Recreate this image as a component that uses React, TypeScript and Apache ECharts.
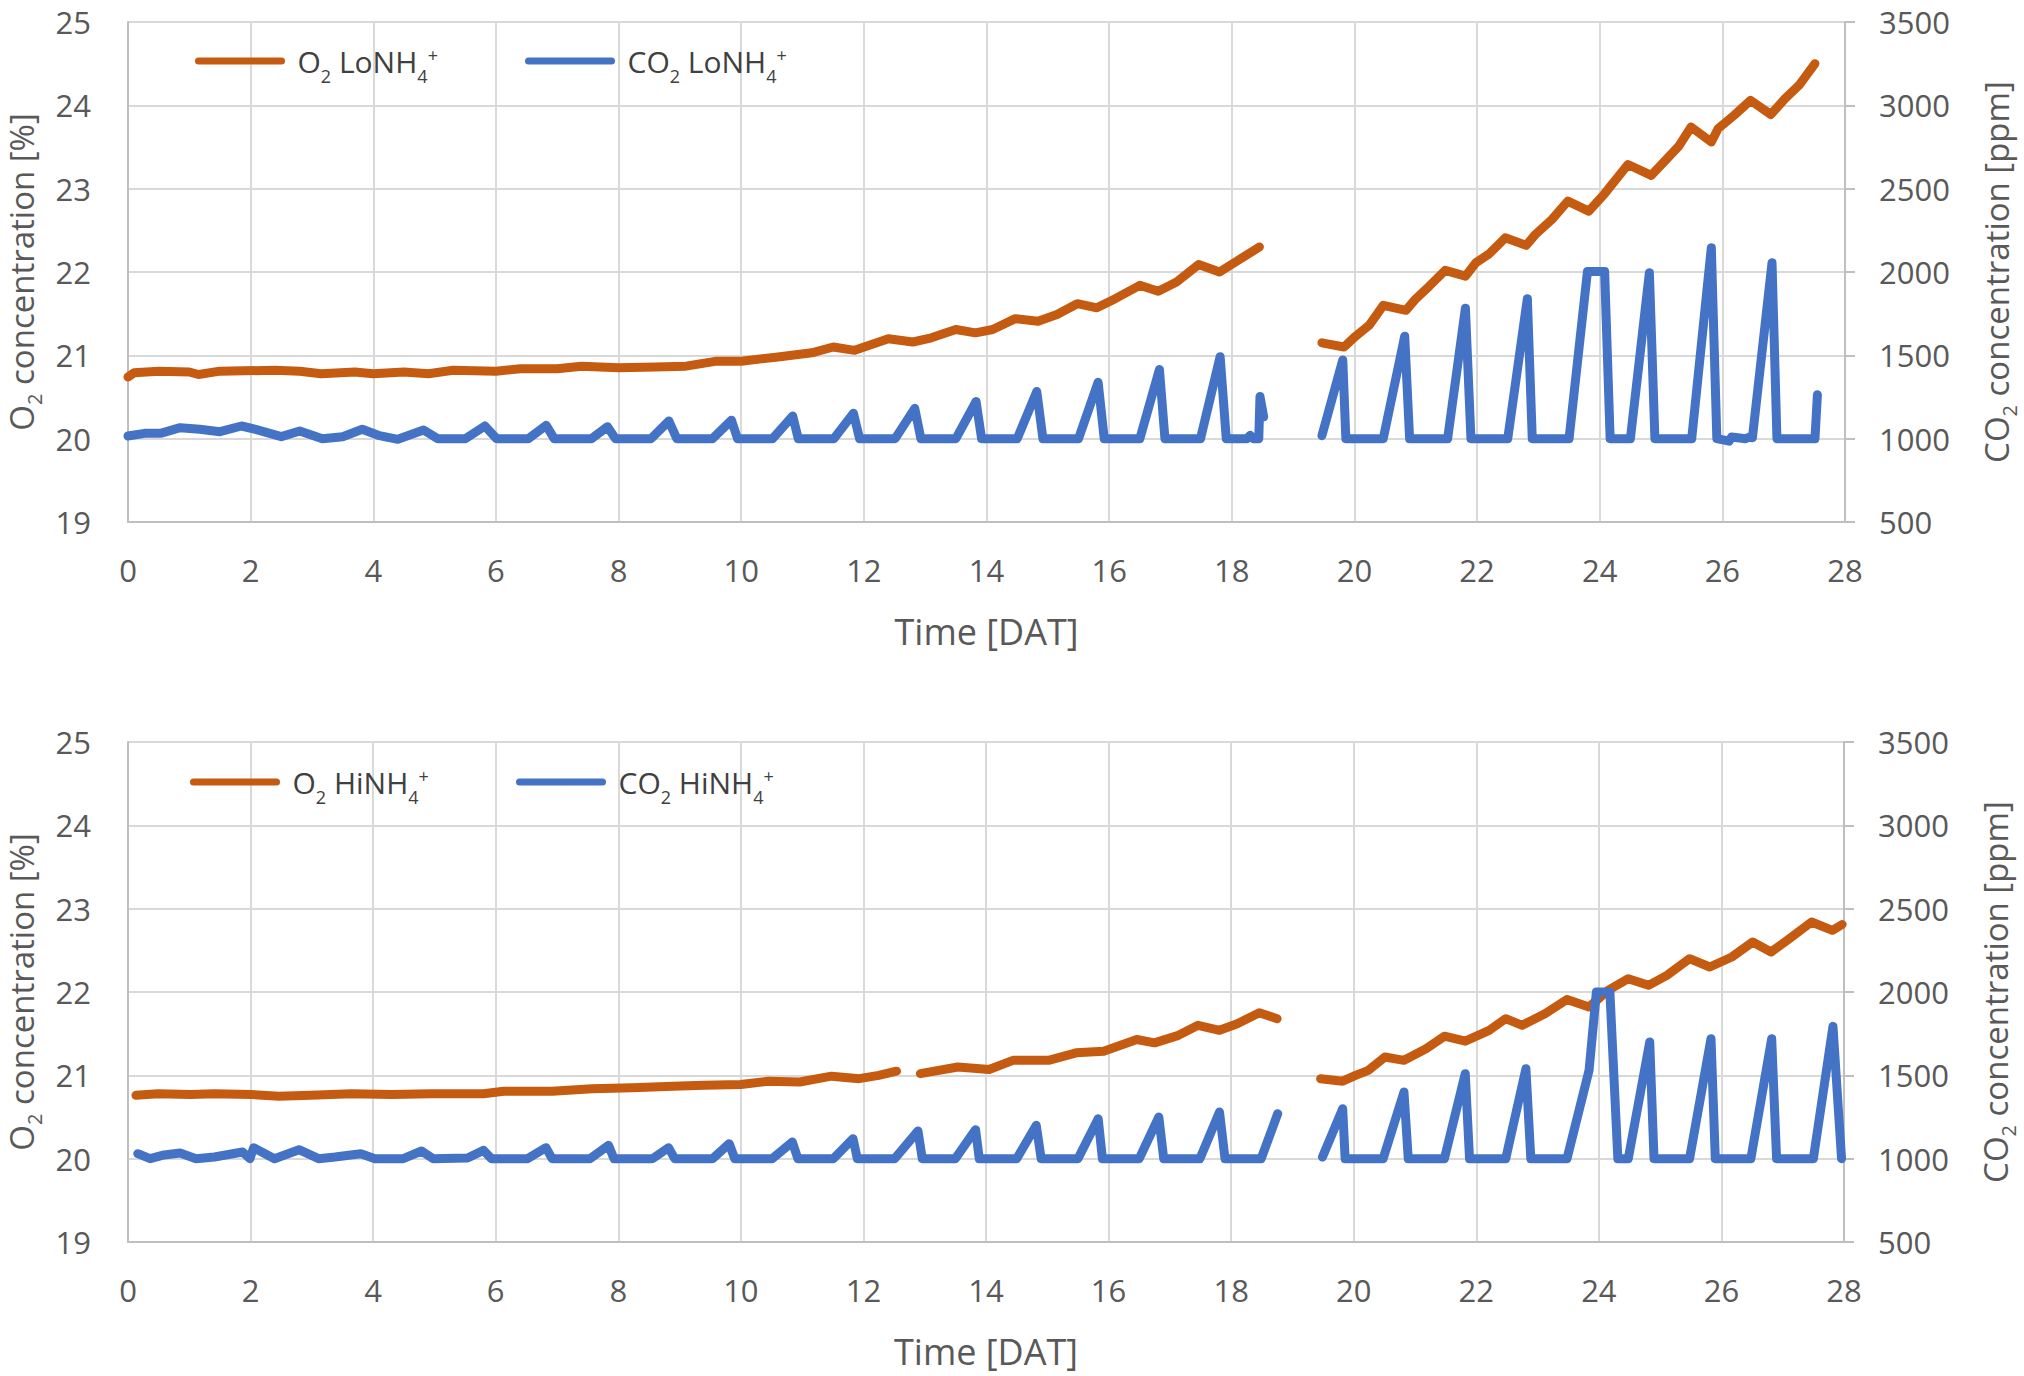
import React, { useEffect, useRef } from "react";
import * as echarts from "echarts";

// ---------- data (t in DAT, O2 in %, CO2 in ppm) ----------
const topO2Seg1: [number, number][] = [
  [0, 20.74], [0.1, 20.79], [0.5, 20.81], [1.0, 20.8], [1.15, 20.77], [1.5, 20.81], [2.4, 20.82],
  [2.8, 20.81], [3.15, 20.78], [3.7, 20.8], [4.0, 20.78], [4.5, 20.8], [4.9, 20.78], [5.3, 20.82],
  [6.0, 20.81], [6.4, 20.84], [7.0, 20.84], [7.4, 20.87], [8.0, 20.85], [8.6, 20.86], [9.1, 20.87],
  [9.6, 20.93], [10.0, 20.93], [10.6, 20.98], [11.15, 21.03], [11.5, 21.1], [11.85, 21.06],
  [12.4, 21.2], [12.8, 21.16], [13.1, 21.21], [13.5, 21.31], [13.82, 21.27], [14.1, 21.31],
  [14.47, 21.44], [14.84, 21.41], [15.15, 21.49], [15.48, 21.62], [15.8, 21.57], [16.1, 21.68],
  [16.5, 21.84], [16.8, 21.77], [17.1, 21.88], [17.46, 22.09], [17.8, 22.0], [18.06, 22.12],
  [18.45, 22.3],
];
const topO2Seg2: [number, number][] = [
  [19.47, 21.15], [19.83, 21.1], [20.02, 21.23], [20.24, 21.36], [20.47, 21.6], [20.84, 21.54],
  [20.99, 21.67], [21.22, 21.83], [21.48, 22.02], [21.81, 21.95], [21.98, 22.11], [22.2, 22.22],
  [22.46, 22.41], [22.8, 22.32], [22.95, 22.45], [23.22, 22.63], [23.48, 22.85], [23.82, 22.73],
  [24.08, 22.94], [24.46, 23.29], [24.84, 23.16], [25.06, 23.33], [25.29, 23.51], [25.49, 23.74],
  [25.82, 23.56], [25.93, 23.72], [26.19, 23.88], [26.46, 24.06], [26.79, 23.89], [27.02, 24.08],
  [27.25, 24.24], [27.51, 24.5],
];
const topCO2Seg1: [number, number][] = [
  [0, 1016], [0.27, 1032], [0.53, 1032], [0.85, 1066], [1.17, 1056], [1.5, 1042], [1.85, 1076],
  [2.08, 1056], [2.5, 1012], [2.8, 1046], [3.17, 1000], [3.5, 1012], [3.82, 1056], [4.08, 1020],
  [4.4, 996], [4.82, 1052], [5.05, 1000], [5.5, 1000], [5.82, 1076], [6.01, 1000], [6.53, 1000],
  [6.82, 1080], [6.95, 1000], [7.56, 1000], [7.82, 1072], [7.95, 1000], [8.53, 1000], [8.82, 1106],
  [8.95, 1000], [9.53, 1000], [9.84, 1111], [9.94, 1000], [10.51, 1000], [10.84, 1136],
  [10.93, 1000], [11.51, 1000], [11.83, 1152], [11.93, 1000], [12.51, 1000], [12.83, 1182],
  [12.93, 1000], [13.5, 1000], [13.83, 1223], [13.92, 1000], [14.5, 1000], [14.82, 1283],
  [14.92, 1000], [15.5, 1000], [15.82, 1338], [15.92, 1000], [16.5, 1000], [16.82, 1415],
  [16.91, 1000], [17.49, 1000], [17.81, 1492], [17.91, 1000], [18.25, 1000], [18.3, 1020],
  [18.35, 1000], [18.44, 1000], [18.46, 1253], [18.52, 1131],
];
const topCO2Seg2: [number, number][] = [
  [19.47, 1018], [19.81, 1472], [19.86, 1000], [20.47, 1000], [20.82, 1615], [20.9, 1000],
  [21.52, 1000], [21.81, 1783], [21.9, 1000], [22.5, 1000], [22.82, 1840], [22.9, 1000],
  [23.5, 1000], [23.8, 2003], [24.08, 2003], [24.17, 1000], [24.5, 1000], [24.81, 1996],
  [24.9, 1000], [25.5, 1000], [25.82, 2146], [25.91, 1000], [26.11, 985], [26.15, 1010],
  [26.38, 1000], [26.45, 1010], [26.49, 1005], [26.81, 2055], [26.89, 1000], [27.51, 1000],
  [27.55, 1264],
];
const botO2Seg1: [number, number][] = [
  [0.13, 20.76], [0.49, 20.78], [1.02, 20.77], [1.41, 20.78], [2.0, 20.77], [2.46, 20.75],
  [2.98, 20.76], [3.64, 20.78], [4.3, 20.77], [4.95, 20.78], [5.8, 20.78], [6.13, 20.81],
  [6.92, 20.81], [7.57, 20.84], [8.23, 20.85], [8.89, 20.87], [9.41, 20.88], [10.0, 20.89],
  [10.45, 20.93], [10.96, 20.92], [11.48, 20.99], [11.93, 20.96], [12.25, 21.0], [12.54, 21.05],
];
const botO2Seg2: [number, number][] = [
  [12.93, 21.02], [13.54, 21.1], [14.05, 21.07], [14.44, 21.18], [15.02, 21.18], [15.47, 21.27],
  [15.92, 21.29], [16.46, 21.43], [16.75, 21.39], [17.14, 21.48], [17.46, 21.6], [17.81, 21.54],
  [18.1, 21.62], [18.46, 21.75], [18.75, 21.68],
];
const botO2Seg3: [number, number][] = [
  [19.46, 20.96], [19.82, 20.93], [20.03, 21.0], [20.24, 21.06], [20.51, 21.22], [20.82, 21.18],
  [21.18, 21.32], [21.48, 21.47], [21.82, 21.41], [22.21, 21.54], [22.48, 21.68], [22.75, 21.6],
  [23.12, 21.74], [23.48, 21.91], [23.84, 21.82], [24.15, 22.02], [24.48, 22.16], [24.81, 22.08],
  [25.11, 22.2], [25.48, 22.4], [25.81, 22.3], [26.17, 22.42], [26.51, 22.6], [26.81, 22.48],
  [27.11, 22.64], [27.47, 22.84], [27.81, 22.74], [27.97, 22.81],
];
const botCO2Seg1: [number, number][] = [
  [0.16, 1030], [0.36, 1000], [0.56, 1020], [0.85, 1034], [1.11, 1000], [1.41, 1010], [1.87, 1040],
  [1.99, 1000], [2.05, 1066], [2.39, 1000], [2.79, 1054], [3.11, 1000], [3.38, 1010], [3.8, 1030],
  [4.03, 1000], [4.49, 1000], [4.79, 1046], [4.98, 1000], [5.54, 1004], [5.8, 1050], [5.93, 1000],
  [6.52, 1000], [6.82, 1066], [6.92, 1000], [7.54, 1000], [7.84, 1080], [7.93, 1000], [8.56, 1000],
  [8.82, 1066], [8.92, 1000], [9.54, 1000], [9.81, 1090], [9.9, 1000], [10.51, 1000], [10.84, 1100],
  [10.93, 1000], [11.51, 1000], [11.83, 1120], [11.9, 1000], [12.51, 1000], [12.89, 1166],
  [12.96, 1000], [13.5, 1000], [13.83, 1174], [13.89, 1000], [14.5, 1000], [14.82, 1200],
  [14.9, 1000], [15.5, 1000], [15.83, 1240], [15.9, 1000], [16.5, 1000], [16.82, 1250],
  [16.9, 1000], [17.49, 1000], [17.81, 1280], [17.9, 1000], [18.49, 1000], [18.76, 1270],
];
const botCO2Seg2: [number, number][] = [
  [19.49, 1010], [19.82, 1300], [19.86, 1000], [20.48, 1000], [20.82, 1400], [20.89, 1000],
  [21.48, 1000], [21.82, 1510], [21.89, 1000], [22.48, 1000], [22.81, 1540], [22.89, 1000],
  [23.48, 1000], [23.84, 1530], [23.96, 2000], [24.18, 2000], [24.31, 1000], [24.48, 1000],
  [24.83, 1700], [24.9, 1000], [25.48, 1000], [25.83, 1720], [25.9, 1000], [26.48, 1000],
  [26.82, 1720], [26.9, 1000], [27.5, 1000], [27.82, 1794], [27.96, 1000],
];

const xTicks = { min: 0, max: 28, interval: 2 };
const o2Ticks = { min: 19, max: 25, interval: 1 };
const co2Ticks = { min: 500, max: 3500, interval: 500 };

const seriesNames = ["O2 LoNH4+", "CO2 LoNH4+", "O2 HiNH4+", "CO2 HiNH4+"];
const legendRich: Record<string, string> = {
  "O2 LoNH4+": "{f|O}{s|2}{n| LoNH}{s|4}{p|+}",
  "CO2 LoNH4+": "{f|CO}{s|2}{n| LoNH}{s|4}{p|+}",
  "O2 HiNH4+": "{f|O}{s|2}{n| HiNH}{s|4}{p|+}",
  "CO2 HiNH4+": "{f|CO}{s|2}{n| HiNH}{s|4}{p|+}",
};

// ---------- styling ----------
const FONT = "'Open Sans', 'Noto Sans', sans-serif";
const ORANGE = "#C55A11";
const BLUE = "#4472C4";
const TEXT = "#595959";
const GRID = "#D9D9D9";
const AXIS = "#BFBFBF";

function withGaps(...segs: [number, number][][]): (number | null)[][] {
  const out: (number | null)[][] = [];
  segs.forEach((seg, i) => {
    if (i > 0) {
      const prev = segs[i - 1];
      out.push([(prev[prev.length - 1][0] + seg[0][0]) / 2, null]);
    }
    seg.forEach((p) => out.push([p[0], p[1]]));
  });
  return out;
}

const legendTextRich = {
  n: { fontSize: 30, color: "#404040", fontFamily: FONT },
  f: { fontSize: 30, color: "#404040", fontFamily: FONT, padding: [0, 0, 0, 11] },
  s: { fontSize: 18, color: "#404040", fontFamily: FONT, padding: [30, 0, 0, 0] },
  p: { fontSize: 18, color: "#404040", fontFamily: FONT, padding: [0, 0, 12, 0] },
};

const nameRich = {
  a: { fontSize: 33, color: TEXT, fontFamily: FONT },
  b: { fontSize: 20, color: TEXT, fontFamily: FONT, padding: [26, 0, 0, 0] },
};

function makeXAxis(gridIndex: number) {
  return {
    gridIndex,
    type: "value",
    ...xTicks,
    axisLine: { show: true, lineStyle: { color: AXIS, width: 2 } },
    axisTick: { show: false },
    splitLine: { show: true, lineStyle: { color: GRID, width: 2 } },
    axisLabel: { fontSize: 31, color: TEXT, fontFamily: FONT, margin: 32 },
    name: "Time [DAT]",
    nameLocation: "middle",
    nameGap: 91,
    nameTextStyle: { fontSize: 36, color: TEXT, fontFamily: FONT },
  };
}

function makeLeftY(gridIndex: number) {
  return {
    gridIndex,
    type: "value",
    position: "left",
    ...o2Ticks,
    axisLine: { show: true, lineStyle: { color: AXIS, width: 2 } },
    axisTick: { show: false },
    splitLine: { show: true, lineStyle: { color: GRID, width: 2 } },
    axisLabel: { fontSize: 31, color: TEXT, fontFamily: FONT, margin: 37 },
    name: "{a|O}{b|2}{a| concentration [%]}",
    nameLocation: "middle",
    nameRotate: 90,
    nameGap: 79,
    nameTextStyle: { rich: nameRich },
  };
}

function makeRightY(gridIndex: number) {
  return {
    gridIndex,
    type: "value",
    position: "right",
    ...co2Ticks,
    axisLine: { show: true, lineStyle: { color: AXIS, width: 2 } },
    axisTick: { show: true, inside: false, length: 10, lineStyle: { color: AXIS, width: 2 } },
    splitLine: { show: false },
    axisLabel: {
      fontSize: 31,
      color: TEXT,
      fontFamily: FONT,
      margin: 34,
      formatter: (v: number) => String(v),
    },
    name: "{a|CO}{b|2}{a| concentration [ppm]}",
    nameLocation: "middle",
    nameRotate: 90,
    nameGap: 128,
    nameTextStyle: { rich: nameRich },
  };
}

function makeLegend(name: string, left: number, top: number) {
  return {
    data: [name],
    left,
    top,
    orient: "horizontal",
    padding: 0,
    itemWidth: 83,
    itemHeight: 7,
    selectedMode: false,
    lineStyle: { width: 7, cap: "round" },
    formatter: (n: string) => legendRich[n] || n,
    textStyle: { rich: legendTextRich },
  };
}

function makeSeries(name: string, data: (number | null)[][], color: string, xi: number, yi: number) {
  return {
    type: "line",
    name,
    xAxisIndex: xi,
    yAxisIndex: yi,
    data,
    symbol: "none",
    showSymbol: false,
    connectNulls: false,
    lineStyle: { color, width: 9, cap: "round", join: "round" },
    itemStyle: { color },
  };
}

export default function App() {
  const ref = useRef<HTMLDivElement>(null);
  useEffect(() => {
    document.body.style.margin = "0";
    if (!ref.current) return;
    const chart = echarts.init(ref.current, null, { renderer: "svg" });
    const option: any = {
      animation: false,
      backgroundColor: "#ffffff",
      textStyle: { fontFamily: FONT },
      grid: [
        { left: 128, right: 179, top: 22, height: 500, outerBoundsMode: "none" },
        { left: 128, right: 180, top: 742, height: 500, outerBoundsMode: "none" },
      ],
      xAxis: [makeXAxis(0), makeXAxis(1)],
      yAxis: [makeLeftY(0), makeRightY(0), makeLeftY(1), makeRightY(1)],
      legend: [
        makeLegend(seriesNames[0], 195, 46),
        makeLegend(seriesNames[1], 525, 46),
        makeLegend(seriesNames[2], 190, 767),
        makeLegend(seriesNames[3], 516, 767),
      ],
      series: [
        makeSeries(seriesNames[0], withGaps(topO2Seg1, topO2Seg2), ORANGE, 0, 0),
        makeSeries(seriesNames[1], withGaps(topCO2Seg1, topCO2Seg2), BLUE, 0, 1),
        makeSeries(seriesNames[2], withGaps(botO2Seg1, botO2Seg2, botO2Seg3), ORANGE, 1, 2),
        makeSeries(seriesNames[3], withGaps(botCO2Seg1, botCO2Seg2), BLUE, 1, 3),
      ],
    };
    chart.setOption(option);
    return () => chart.dispose();
  }, []);
  return <div ref={ref} style={{ width: 2024, height: 1376, background: "#fff" }} />;
}
